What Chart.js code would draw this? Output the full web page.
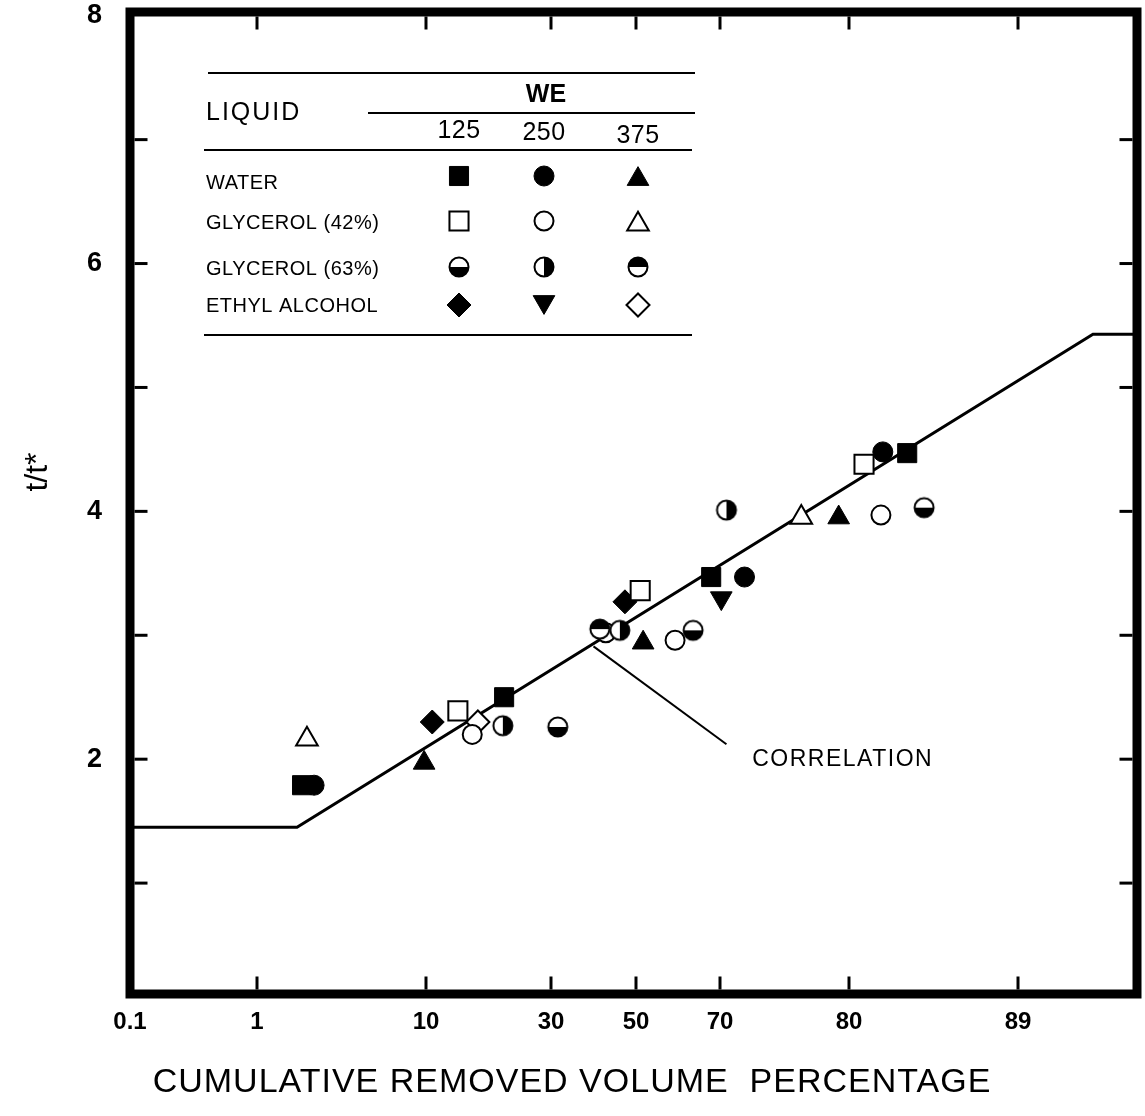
<!DOCTYPE html>
<html>
<head>
<meta charset="utf-8">
<title>t/t* vs cumulative removed volume percentage</title>
<script src="https://cdn.jsdelivr.net/npm/chart.js@4.4.0/dist/chart.umd.min.js"></script>
<style>
  html, body { margin: 0; padding: 0; background: #ffffff; }
  #wrap { width: 1145px; height: 1116px; position: relative; }
</style>
</head>
<body>
<div id="wrap"><canvas id="chart" width="1145" height="1116"></canvas></div>
<script>
// ---- axis ticks and labels ----
const xTickValues = [0.1, 1, 10, 30, 50, 70, 80, 89];
const yTickValues = [1, 2, 3, 4, 5, 6, 7, 8];
const yLabelValues = [2, 4, 6, 8];
const weColumns = ['125', '250', '375'];
const liquidRows = ['WATER', 'GLYCEROL (42%)', 'GLYCEROL (63%)', 'ETHYL ALCOHOL'];
const xTitle = 'CUMULATIVE REMOVED VOLUME  PERCENTAGE';
const yTitle = 't/t*';

// ---- measurements: [cumulative removed volume %, t/t*] ----
const water125 = [[3.4, 1.79], [22.5, 2.50], [67.9, 3.47], [83.1, 4.47]];
const water250 = [[4.04, 1.79], [71.9, 3.47], [81.8, 4.48]];
const water375 = [[9.9, 1.97], [51.7, 2.94], [79.2, 3.95]];
const gly42_125 = [[15.1, 2.39], [51.0, 3.36], [80.8, 4.38]];
const gly42_250 = [[17.4, 2.20], [42.9, 3.02], [59.3, 2.96], [81.7, 3.97]];
const gly42_375 = [[3.66, 2.16], [76.3, 3.95]];
const gly63_125 = [[31.6, 2.26], [63.6, 3.04], [84.0, 4.03]];
const gly63_250 = [[22.3, 2.27], [46.2, 3.04], [70.5, 4.01]];
const gly63_375 = [[41.5, 3.05]];
const ethyl125 = [[11.0, 2.30], [47.4, 3.27]];
const ethyl250 = [[70.1, 3.30]];
const ethyl375 = [[18.3, 2.30]];

// correlation curve and its call-out
const correlation = [[0.1, 1.45], [3.13, 1.45], [95.3, 5.43], [99, 5.43]];
const calloutLine = [[40, 2.91], [70.5, 2.12]];
const calloutText = 'CORRELATION';
const calloutAt = [72.5, 2.0];

const FONT = "'Liberation Sans', Arial, Helvetica, sans-serif";

// ---- percentage axis: piecewise-linear between the printed graduations ----
class PercentageScale extends Chart.LinearScale {
  static id = 'percentage';
  static defaults = {};
  static stops = [0.1, 1, 10, 30, 50, 70, 80, 89, 99];
  static offsets = [0, 0.12612, 0.29394, 0.41807, 0.50248, 0.58590, 0.71400, 0.88183, 1];

  static toDecimal(v) {
    const s = PercentageScale.stops, o = PercentageScale.offsets;
    if (v <= s[0]) return o[0];
    for (let i = 1; i < s.length; i++) {
      if (v <= s[i]) return o[i - 1] + (v - s[i - 1]) / (s[i] - s[i - 1]) * (o[i] - o[i - 1]);
    }
    return 1;
  }
  static fromDecimal(d) {
    const s = PercentageScale.stops, o = PercentageScale.offsets;
    for (let i = 1; i < o.length; i++) {
      if (d <= o[i]) return s[i - 1] + (d - o[i - 1]) / (o[i] - o[i - 1]) * (s[i] - s[i - 1]);
    }
    return s[s.length - 1];
  }
  buildTicks() {
    this.start = this.min;
    this.end = this.max;
    return xTickValues.map(v => ({ value: v }));
  }
  getPixelForValue(value) {
    if (value === null || value === undefined || isNaN(value)) return NaN;
    return this.getPixelForDecimal(PercentageScale.toDecimal(value));
  }
  getValueForPixel(pixel) {
    return PercentageScale.fromDecimal(this.getDecimalForPixel(pixel));
  }
}
Chart.register(PercentageScale);

// ---- half-shaded circle markers (glycerol 63%) ----
function halfDisc(side) {
  const c = document.createElement('canvas');
  c.width = 24; c.height = 24;
  const g = c.getContext('2d');
  const cx = 12, cy = 12, r = 9.5;
  g.fillStyle = '#fff';
  g.beginPath(); g.arc(cx, cy, r, 0, Math.PI * 2); g.fill();
  g.fillStyle = '#000';
  g.beginPath();
  if (side === 'bottom') g.arc(cx, cy, r, 0, Math.PI);
  if (side === 'top') g.arc(cx, cy, r, Math.PI, Math.PI * 2);
  if (side === 'right') g.arc(cx, cy, r, -Math.PI / 2, Math.PI / 2);
  g.closePath(); g.fill();
  g.lineWidth = 2; g.strokeStyle = '#000';
  g.beginPath(); g.arc(cx, cy, r, 0, Math.PI * 2); g.stroke();
  return c;
}

const MARK = {
  fSquare:   { pointStyle: 'rect', radius: 13.5, fill: '#000', width: 1 },
  fCircle:   { pointStyle: 'circle', radius: 10, fill: '#000', width: 1 },
  fTriangle: { pointStyle: 'triangle', radius: 12.5, fill: '#000', width: 1 },
  oSquare:   { pointStyle: 'rect', radius: 13.5, fill: '#fff', width: 2 },
  oCircle:   { pointStyle: 'circle', radius: 9.5, fill: '#fff', width: 2 },
  oTriangle: { pointStyle: 'triangle', radius: 12.5, fill: '#fff', width: 2 },
  hBottom:   { pointStyle: halfDisc('bottom'), radius: 10, fill: '#fff', width: 0 },
  hRight:    { pointStyle: halfDisc('right'), radius: 10, fill: '#fff', width: 0 },
  hTop:      { pointStyle: halfDisc('top'), radius: 10, fill: '#fff', width: 0 },
  fDiamond:  { pointStyle: 'rectRot', radius: 12, fill: '#000', width: 1 },
  fDown:     { pointStyle: 'triangle', radius: 12.5, fill: '#000', width: 1, rotation: 180 },
  oDiamond:  { pointStyle: 'rectRot', radius: 11.5, fill: '#fff', width: 2 }
};

// first entry is painted on top
const series = [
  { data: gly42_125, row: 1, col: 0, mark: MARK.oSquare },
  { data: water125,  row: 0, col: 0, mark: MARK.fSquare },
  { data: water250,  row: 0, col: 1, mark: MARK.fCircle },
  { data: water375,  row: 0, col: 2, mark: MARK.fTriangle },
  { data: gly63_125, row: 2, col: 0, mark: MARK.hBottom },
  { data: gly63_250, row: 2, col: 1, mark: MARK.hRight },
  { data: gly63_375, row: 2, col: 2, mark: MARK.hTop },
  { data: gly42_250, row: 1, col: 1, mark: MARK.oCircle },
  { data: gly42_375, row: 1, col: 2, mark: MARK.oTriangle },
  { data: ethyl125,  row: 3, col: 0, mark: MARK.fDiamond },
  { data: ethyl250,  row: 3, col: 1, mark: MARK.fDown },
  { data: ethyl375,  row: 3, col: 2, mark: MARK.oDiamond }
];

const toXY = arr => arr.map(([x, y]) => ({ x, y }));

const datasets = series.map(s => ({
  label: liquidRows[s.row] + ' / ' + weColumns[s.col],
  data: toXY(s.data),
  showLine: false,
  order: 0,
  pointStyle: s.mark.pointStyle,
  pointRadius: s.mark.radius,
  pointHoverRadius: s.mark.radius,
  pointRotation: s.mark.rotation || 0,
  pointBackgroundColor: s.mark.fill,
  pointBorderColor: '#000',
  pointBorderWidth: s.mark.width
}));

datasets.push({
  label: 'correlation',
  data: toXY(correlation),
  showLine: true, pointRadius: 0, borderColor: '#000', borderWidth: 3,
  tension: 0, order: 10
});
datasets.push({
  label: 'callout',
  data: toXY(calloutLine),
  showLine: true, pointRadius: 0, borderColor: '#000', borderWidth: 2,
  tension: 0, order: 10, clip: false
});

function line(ctx, x1, y1, x2, y2) {
  ctx.beginPath(); ctx.moveTo(x1, y1); ctx.lineTo(x2, y2); ctx.stroke();
}
function text(ctx, str, x, y, font, align, spacing) {
  ctx.font = font;
  ctx.textAlign = align || 'left';
  ctx.textBaseline = 'middle';
  ctx.letterSpacing = spacing || '0px';
  ctx.fillText(str, x, y);
  ctx.letterSpacing = '0px';
}

// frame, inward tick marks, axis titles and call-out label
const framePlugin = {
  id: 'frame',
  afterDraw(chart) {
    const { ctx, chartArea: a, scales: { x, y } } = chart;
    ctx.save();
    ctx.strokeStyle = '#000';
    ctx.fillStyle = '#000';
    ctx.lineWidth = 9;
    ctx.lineJoin = 'miter';
    ctx.strokeRect(a.left, a.top, a.right - a.left, a.bottom - a.top);

    ctx.lineWidth = 3;
    const inset = 4.5, len = 13;
    xTickValues.forEach(v => {
      if (v <= x.min) return;
      const px = x.getPixelForValue(v);
      line(ctx, px, a.top + inset, px, a.top + inset + len);
      line(ctx, px, a.bottom - inset, px, a.bottom - inset - len);
    });
    yTickValues.forEach(v => {
      if (v >= 8) return;
      const py = y.getPixelForValue(v);
      line(ctx, a.left + inset, py, a.left + inset + len, py);
      line(ctx, a.right - inset, py, a.right - inset - len, py);
    });

    text(ctx, calloutText, x.getPixelForValue(calloutAt[0]), y.getPixelForValue(calloutAt[1]),
      '23px ' + FONT, 'left', '1.5px');

    text(ctx, xTitle, 572, 1083, '34px ' + FONT, 'center', '1px');

    ctx.save();
    ctx.translate(38, 472);
    ctx.rotate(-Math.PI / 2);
    text(ctx, yTitle, 0, 0, '32px ' + FONT, 'center', '0px');
    ctx.restore();
    ctx.restore();
  }
};

// key table: liquid rows x WE columns
const tablePlugin = {
  id: 'keyTable',
  afterDraw(chart) {
    const ctx = chart.ctx;
    ctx.save();
    ctx.strokeStyle = '#000';
    ctx.fillStyle = '#000';
    ctx.lineWidth = 2;
    line(ctx, 208, 73, 695, 73);
    line(ctx, 368, 113, 695, 113);
    line(ctx, 204, 150, 692, 150);
    line(ctx, 204, 335, 692, 335);

    text(ctx, 'LIQUID', 206, 113, '25px ' + FONT, 'left', '2px');
    text(ctx, 'WE', 546, 95, 'bold 25px ' + FONT, 'center', '0px');

    const colX = [459, 544, 638];
    const colY = [131, 133, 136];
    weColumns.forEach((c, i) => text(ctx, c, colX[i], colY[i], '25px ' + FONT, 'center', '0.5px'));

    const rowText = [183, 223, 269, 306];
    const rowMark = [176, 221, 267, 305];
    liquidRows.forEach((r, i) => text(ctx, r, 206, rowText[i], '20px ' + FONT, 'left', '0.5px'));

    series.forEach(s => {
      const m = s.mark;
      let yy = rowMark[s.row];
      if (m.pointStyle === 'triangle') yy += (m.rotation ? -1 : 1) * m.radius / 4;
      ctx.fillStyle = m.fill;
      ctx.strokeStyle = '#000';
      ctx.lineWidth = m.width;
      Chart.helpers.drawPoint(ctx, {
        pointStyle: m.pointStyle, rotation: m.rotation || 0,
        radius: m.radius, borderWidth: m.width
      }, colX[s.col], yy);
    });
    ctx.restore();
  }
};

new Chart(document.getElementById('chart'), {
  type: 'scatter',
  data: { datasets },
  options: {
    responsive: false,
    animation: false,
    events: [],
    layout: { autoPadding: false, padding: { top: 12, right: 8, left: 0, bottom: 0 } },
    plugins: { legend: { display: false }, tooltip: { enabled: false } },
    scales: {
      x: {
        type: 'percentage',
        min: 0.1, max: 99,
        grid: { display: false, drawTicks: false },
        border: { display: false },
        ticks: {
          autoSkip: false, maxRotation: 0, minRotation: 0, padding: 14,
          color: '#000', font: { family: FONT, size: 24, weight: 'bold' },
          callback: v => String(v)
        },
        afterFit: s => { s.height = 122; s.paddingLeft = 0; s.paddingRight = 0; }
      },
      y: {
        type: 'linear',
        min: 0.105, max: 8.03,
        grid: { display: false, drawTicks: false },
        border: { display: false },
        afterBuildTicks: s => { s.ticks = yTickValues.map(v => ({ value: v })); },
        ticks: {
          autoSkip: false, padding: 28,
          color: '#000', font: { family: FONT, size: 27, weight: 'bold' },
          callback: v => (yLabelValues.includes(v) ? String(v) : '')
        },
        afterFit: s => { s.width = 130; s.paddingTop = 0; s.paddingBottom = 0; }
      }
    }
  },
  plugins: [framePlugin, tablePlugin]
});
</script>
</body>
</html>
